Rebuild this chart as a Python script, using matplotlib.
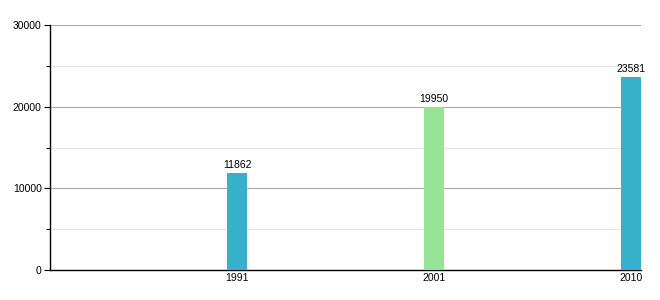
import matplotlib
matplotlib.use('Agg')
import matplotlib.pyplot as plt
from matplotlib.ticker import MultipleLocator

plt.rcParams['font.family'] = ['Liberation Sans', 'DejaVu Sans']

years = ['1991', '2001', '2010']
values = [11862, 19950, 23581]
colors = ['#36b1cb', '#98e496', '#36b1cb']

fig = plt.figure(figsize=(6.6, 3.0), dpi=100)
ax = fig.add_axes([50 / 660, 30 / 300, 591 / 660, 245 / 300])

x = range(len(years))
ax.bar(x, values, width=20 / 197, color=colors, zorder=3)
for i, v in zip(x, values):
    ax.text(i, v + 400, str(v), ha='center', va='bottom', fontsize=7.5, zorder=4)

ax.set_xlim(-187 / 197, 404 / 197)
ax.set_ylim(0, 30000)
ax.set_xticks(list(x))
ax.set_xticklabels(years)
ax.yaxis.set_major_locator(MultipleLocator(10000))
ax.yaxis.set_minor_locator(MultipleLocator(5000))
ax.grid(axis='y', which='major', color='#aaaaaa', linewidth=0.8, zorder=0)
ax.grid(axis='y', which='minor', color='#e6e6e6', linewidth=0.8, zorder=0)

for s in ['top', 'right']:
    ax.spines[s].set_visible(False)
ax.spines['left'].set_linewidth(1)
ax.spines['bottom'].set_linewidth(1)
ax.tick_params(axis='y', which='major', length=4, width=0.8, labelsize=7.5, pad=2)
ax.tick_params(axis='y', which='minor', length=3, width=0.8)
ax.tick_params(axis='x', length=0, labelsize=7.5, pad=2)

fig.savefig('out.png', dpi=100)
